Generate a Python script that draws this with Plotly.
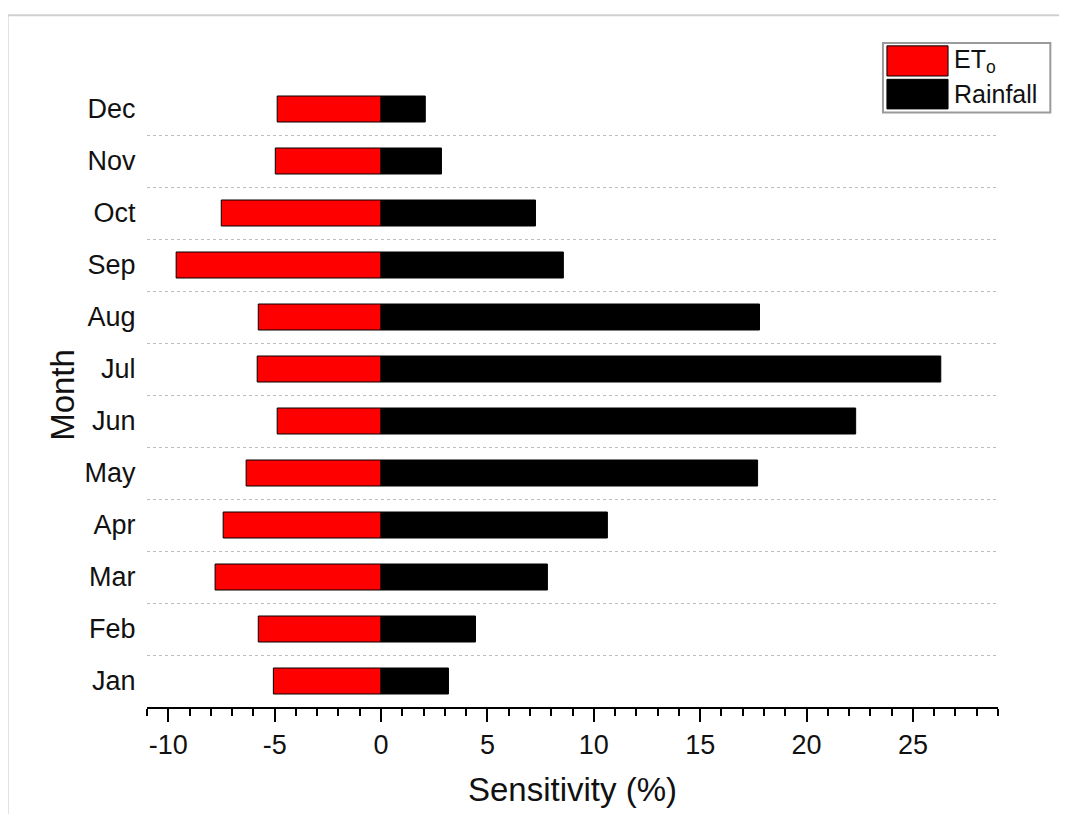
import plotly.graph_objects as go

months = ["Jan", "Feb", "Mar", "Apr", "May", "Jun", "Jul", "Aug", "Sep", "Oct", "Nov", "Dec"]
eto = [-5.06, -5.77, -7.80, -7.42, -6.34, -4.88, -5.82, -5.77, -9.63, -7.51, -4.97, -4.88]
rainfall = [3.17, 4.44, 7.82, 10.64, 17.70, 22.31, 26.31, 17.79, 8.57, 7.26, 2.84, 2.08]
series_names = ["ET<sub>o</sub>", "Rainfall"]
series_colors = ["#ff0000", "#000000"]
x_ticks = [-10, -5, 0, 5, 10, 15, 20, 25]
x_ticktext = [str(v) for v in x_ticks]
x_range = [-11, 29]

FONT = "Liberation Sans, Arial, sans-serif"
ypos = list(range(len(months)))
y_range = [-0.5, len(months) - 0.5]
boundaries = [i - 0.5 for i in range(len(months) + 1)]

fig = go.Figure()
for name, vals, col in zip(series_names, [eto, rainfall], series_colors):
    fig.add_trace(go.Bar(
        x=vals, y=ypos, orientation="h", name=name, width=0.5,
        marker=dict(color=col, line=dict(color="#000000", width=1)),
        showlegend=False,
    ))

zero_pos = (0 - x_range[0]) / (x_range[1] - x_range[0])

fig.update_layout(
    width=1051, height=806,
    margin=dict(l=139, r=61, t=75, b=104),
    plot_bgcolor="white", paper_bgcolor="white",
    barmode="overlay",
    font=dict(family=FONT, color="#111111"),
    xaxis=dict(
        range=x_range, tickvals=x_ticks, ticktext=x_ticktext, showgrid=False, zeroline=False,
        showline=True, linecolor="black", linewidth=2,
        ticks="outside", ticklen=13, tickwidth=2, tickcolor="black",
        minor=dict(dtick=1, tick0=0, ticks="outside", ticklen=7, tickwidth=2, tickcolor="black"),
        tickfont=dict(size=27, family=FONT),
        title=dict(text="Sensitivity (%)", font=dict(size=33, family=FONT), standoff=18),
    ),
    yaxis=dict(
        range=y_range, tickvals=ypos, ticktext=months, showgrid=False, zeroline=False,
        showline=False, ticks="outside", ticklen=5, tickcolor="rgba(0,0,0,0)",
        tickfont=dict(size=27, family=FONT),
        minor=dict(tickmode="array", tickvals=boundaries[1:-1], showgrid=True,
                   griddash="dot", gridcolor="#bdbdbd", gridwidth=1, ticks=""),
        title=dict(text="Month", font=dict(size=33, family=FONT), standoff=0),
    ),
    yaxis2=dict(
        overlaying="y", anchor="free", position=zero_pos, range=y_range,
        tickvals=boundaries, showticklabels=False, showgrid=False, zeroline=False,
        showline=True, linecolor="black", linewidth=2,
        ticks="outside", ticklen=6, tickwidth=2, tickcolor="black",
    ),
    yaxis3=dict(
        overlaying="y", anchor="free", position=zero_pos, range=y_range,
        tickvals=boundaries, showticklabels=False, showgrid=False, zeroline=False,
        showline=False, ticks="inside", ticklen=6, tickwidth=2, tickcolor="black",
    ),
)

# outer frame
fig.add_shape(type="rect", xref="paper", yref="paper",
              x0=-0.1638, x1=1.09, y0=-0.2, y1=1.1085,
              line=dict(color="#d0d0d0", width=2), fillcolor="rgba(0,0,0,0)", layer="below")

# custom legend
fig.add_shape(type="rect", xref="paper", yref="paper",
              x0=0.8648, x1=1.0615, y0=0.9526, y1=1.0643,
              line=dict(color="#9a9a9a", width=2), fillcolor="white")
sw = [(1.0595, 1.0112), (1.0059, 0.9585)]
for (yt, yb), name, col in zip(sw, series_names, series_colors):
    fig.add_shape(type="rect", xref="paper", yref="paper",
                  x0=0.8695, x1=0.9413, y0=yb, y1=yt,
                  line=dict(color="#000000", width=1), fillcolor=col)
    fig.add_annotation(xref="paper", yref="paper", x=0.9465, y=(yt + yb) / 2,
                       text=name, showarrow=False, xanchor="left", yanchor="middle",
                       font=dict(size=25, family=FONT, color="#111111"))

fig.write_html("out.html")
